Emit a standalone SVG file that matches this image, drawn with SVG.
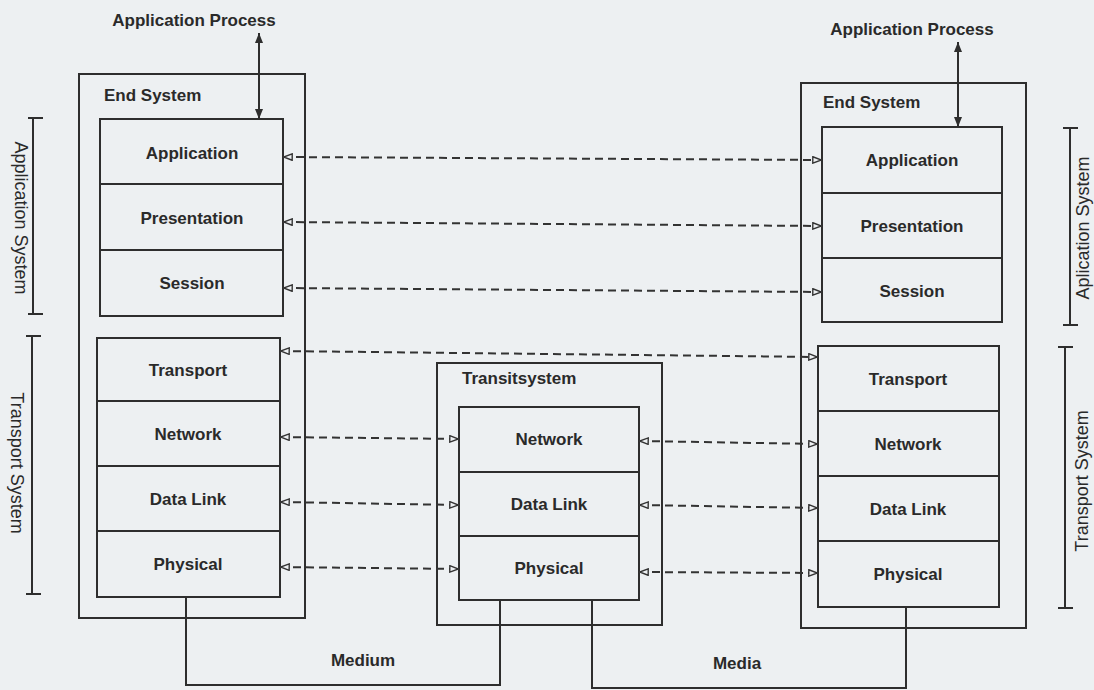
<svg xmlns="http://www.w3.org/2000/svg" width="1094" height="690" viewBox="0 0 1094 690">
  <style>
    .box { fill: none; stroke: #2e2e2e; stroke-width: 2; }
    .sep { stroke: #2e2e2e; stroke-width: 2; }
    .wire { fill: none; stroke: #2e2e2e; stroke-width: 2; }
    .peer { fill: none; stroke: #333; stroke-width: 2; stroke-dasharray: 8 5; marker-start: url(#open); marker-end: url(#open); }
    .proc { stroke: #2e2e2e; stroke-width: 2; marker-start: url(#solid); marker-end: url(#solid); }
    .lbl { font-family: "Liberation Sans", Arial, sans-serif; font-weight: bold; font-size: 17px; fill: #2a2a2a; text-anchor: middle; }
    .title { font-family: "Liberation Sans", Arial, sans-serif; font-weight: bold; font-size: 17px; fill: #2a2a2a; }
    .side { font-family: "Liberation Sans", Arial, sans-serif; font-size: 18px; fill: #2a2a2a; text-anchor: middle; }
  </style>
  <defs>
    <marker id="open" viewBox="0 0 10 8" refX="10" refY="4" markerWidth="10" markerHeight="8" markerUnits="userSpaceOnUse" orient="auto-start-reverse">
      <path d="M0.8,0.8 L9.5,4 L0.8,7.2 Z" fill="#edf0f2" stroke="#333" stroke-width="1.4"/>
    </marker>
    <marker id="solid" viewBox="0 0 10 8" refX="10" refY="4" markerWidth="10" markerHeight="8" markerUnits="userSpaceOnUse" orient="auto-start-reverse">
      <path d="M0,0 L10,4 L0,8 Z" fill="#2e2e2e"/>
    </marker>
  </defs>

  <rect x="0" y="0" width="1094" height="690" fill="#edf0f2"/>

  <!-- left end system -->
  <g id="end-system-left">
    <rect class="box" x="79" y="74" width="226" height="544"/>
    <text class="title" x="104" y="101">End System</text>
    <rect class="box" x="100" y="119" width="183" height="197"/>
    <line class="sep" x1="100" y1="184" x2="283" y2="184"/>
    <line class="sep" x1="100" y1="250" x2="283" y2="250"/>
    <text class="lbl" x="192" y="159">Application</text>
    <text class="lbl" x="192" y="224">Presentation</text>
    <text class="lbl" x="192" y="289">Session</text>
    <rect class="box" x="97" y="338" width="183" height="259"/>
    <line class="sep" x1="97" y1="401" x2="280" y2="401"/>
    <line class="sep" x1="97" y1="466" x2="280" y2="466"/>
    <line class="sep" x1="97" y1="531" x2="280" y2="531"/>
    <text class="lbl" x="188" y="376">Transport</text>
    <text class="lbl" x="188" y="440">Network</text>
    <text class="lbl" x="188" y="505">Data Link</text>
    <text class="lbl" x="188" y="570">Physical</text>
  </g>

  <!-- transit system -->
  <g id="transit-system">
    <rect class="box" x="437" y="363" width="225" height="262"/>
    <text class="title" x="462" y="384">Transitsystem</text>
    <rect class="box" x="459" y="407" width="180" height="193"/>
    <line class="sep" x1="459" y1="472" x2="639" y2="472"/>
    <line class="sep" x1="459" y1="536" x2="639" y2="536"/>
    <text class="lbl" x="549" y="445">Network</text>
    <text class="lbl" x="549" y="510">Data Link</text>
    <text class="lbl" x="549" y="574">Physical</text>
  </g>

  <!-- right end system -->
  <g id="end-system-right">
    <rect class="box" x="801" y="83" width="225" height="545"/>
    <text class="title" x="823" y="108">End System</text>
    <rect class="box" x="822" y="127" width="180" height="195"/>
    <line class="sep" x1="822" y1="193" x2="1002" y2="193"/>
    <line class="sep" x1="822" y1="258" x2="1002" y2="258"/>
    <text class="lbl" x="912" y="166">Application</text>
    <text class="lbl" x="912" y="232">Presentation</text>
    <text class="lbl" x="912" y="297">Session</text>
    <rect class="box" x="818" y="346" width="181" height="261"/>
    <line class="sep" x1="818" y1="411" x2="999" y2="411"/>
    <line class="sep" x1="818" y1="476" x2="999" y2="476"/>
    <line class="sep" x1="818" y1="541" x2="999" y2="541"/>
    <text class="lbl" x="908" y="385">Transport</text>
    <text class="lbl" x="908" y="450">Network</text>
    <text class="lbl" x="908" y="515">Data Link</text>
    <text class="lbl" x="908" y="580">Physical</text>
  </g>

  <!-- application processes -->
  <g id="app-process-left">
    <text class="lbl" x="194" y="26">Application Process</text>
  </g>
  <g id="app-process-right">
    <text class="lbl" x="912" y="35">Application Process</text>
  </g>

  <!-- system scope brackets -->
  <g id="scope-left">
    <line class="sep" x1="33" y1="118" x2="33" y2="314"/>
    <line class="sep" x1="28" y1="118" x2="43" y2="118"/>
    <line class="sep" x1="28" y1="314" x2="43" y2="314"/>
    <text class="side" transform="translate(21 218) rotate(90)" dy="6">Application System</text>
    <line class="sep" x1="32" y1="336" x2="32" y2="594"/>
    <line class="sep" x1="26" y1="336" x2="41" y2="336"/>
    <line class="sep" x1="26" y1="594" x2="41" y2="594"/>
    <text class="side" transform="translate(17 463) rotate(90)" dy="6">Transport System</text>
  </g>
  <g id="scope-right">
    <line class="sep" x1="1070" y1="128" x2="1070" y2="325"/>
    <line class="sep" x1="1063" y1="128" x2="1078" y2="128"/>
    <line class="sep" x1="1063" y1="325" x2="1078" y2="325"/>
    <text class="side" transform="translate(1083 228) rotate(-90)" dy="6">Aplication System</text>
    <line class="sep" x1="1065" y1="347" x2="1065" y2="608"/>
    <line class="sep" x1="1058" y1="347" x2="1073" y2="347"/>
    <line class="sep" x1="1058" y1="608" x2="1073" y2="608"/>
    <text class="side" transform="translate(1082 481) rotate(-90)" dy="6">Transport System</text>
  </g>

  <!-- media labels -->
  <g id="medium">
    <text class="lbl" x="363" y="666" font-size="16">Medium</text>
  </g>
  <g id="media">
    <text class="lbl" x="737" y="669" font-size="16">Media</text>
  </g>

  <g id="connectors">
    <!-- process access -->
    <line class="proc" x1="259" y1="33" x2="259" y2="119"/>
    <line class="proc" x1="958" y1="42" x2="958" y2="127"/>
    <!-- peer protocols -->
    <line class="peer" x1="283" y1="157" x2="822" y2="160"/>
    <line class="peer" x1="283" y1="222" x2="822" y2="226"/>
    <line class="peer" x1="283" y1="288" x2="822" y2="292"/>
    <line class="peer" x1="280" y1="351" x2="818" y2="357"/>
    <line class="peer" x1="280" y1="437" x2="459" y2="439"/>
    <line class="peer" x1="639" y1="441" x2="818" y2="444"/>
    <line class="peer" x1="280" y1="502" x2="459" y2="505"/>
    <line class="peer" x1="639" y1="505" x2="818" y2="508"/>
    <line class="peer" x1="280" y1="567" x2="459" y2="569"/>
    <line class="peer" x1="639" y1="572" x2="818" y2="573"/>
    <!-- physical links -->
    <polyline class="wire" points="186,597 186,685 500,685 500,600"/>
    <polyline class="wire" points="592,600 592,688 906,688 906,607"/>
  </g>
</svg>
